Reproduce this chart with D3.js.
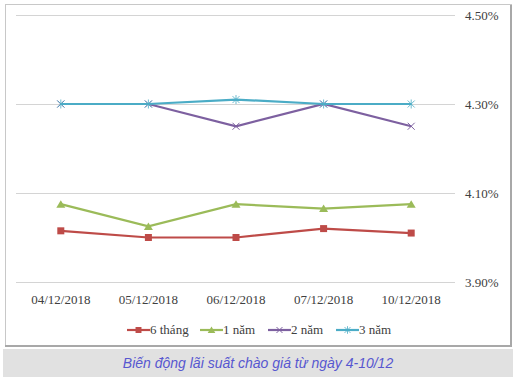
<!DOCTYPE html>
<html><head><meta charset="utf-8">
<script src="https://cdn.jsdelivr.net/npm/d3@7"></script>
<style>
body{margin:0;background:#fff;}
svg{display:block;}
</style></head>
<body>
<svg id="c" width="515" height="377"></svg>
<script>
const categories = ["04/12/2018","05/12/2018","06/12/2018","07/12/2018","10/12/2018"];
const seriesNames = ["6 tháng","1 năm","2 năm","3 năm"];
const s6thang = [4.015, 4.00, 4.00, 4.02, 4.01];
const s1nam = [4.075, 4.025, 4.075, 4.065, 4.075];
const s2nam = [4.30, 4.30, 4.25, 4.30, 4.25];
const s3nam = [4.30, 4.30, 4.31, 4.30, 4.30];
const yTicks = [3.90, 4.10, 4.30, 4.50];
const caption = "Biến động lãi suất chào giá từ ngày 4-10/12";

const colors = ["#be4b48","#9bbb59","#7d60a0","#4bacc6"];
const markers = ["square","triangle","x","star"];
const data = [s6thang, s1nam, s2nam, s3nam];
const serif = "Liberation Serif, Times New Roman, serif";

const svg = d3.select("#c");
// caption band
svg.append("rect").attr("x",3).attr("y",349).attr("width",510).attr("height",28).attr("fill","#e1e1e1");
svg.append("text").attr("x",258).attr("y",368).attr("text-anchor","middle")
  .attr("font-family","Liberation Sans, Arial, sans-serif").attr("font-size",14)
  .attr("font-style","italic").attr("fill","#5757d0").text(caption);
// chart border
svg.append("rect").attr("x",5.5).attr("y",4.5).attr("width",506).attr("height",342)
  .attr("fill","#fff").attr("stroke","#c8c8c8").attr("stroke-width",1);
svg.append("line").attr("x1",511).attr("x2",511).attr("y1",5).attr("y2",347).attr("stroke","#a8a8a8").attr("stroke-width",2);
svg.append("line").attr("x1",5).attr("x2",512).attr("y1",346).attr("y2",346).attr("stroke","#a8a8a8").attr("stroke-width",2);

const x = d3.scaleBand().domain(categories).range([17,455]);
const y = d3.scaleLinear().domain([3.90,4.50]).range([282,15]);

// grid
svg.append("g").selectAll("line").data(yTicks).join("line")
  .attr("x1",16).attr("x2",455).attr("y1",d=>Math.round(y(d))+0.5).attr("y2",d=>Math.round(y(d))+0.5)
  .attr("stroke","#d4d4d4").attr("stroke-width",1);

const yAxis = d3.axisRight(y).tickValues(yTicks).tickSize(0).tickPadding(0)
  .tickFormat(d=>d3.format(".2f")(d)+"%");
const ya = svg.append("g").attr("transform","translate(465,0)").call(yAxis);
ya.select(".domain").remove();
ya.selectAll("text").attr("font-family",serif).attr("font-size",13).attr("fill","#404040").attr("dy","0.35em");

const xAxis = d3.axisBottom(x).tickSize(0).tickPadding(0);
const xa = svg.append("g").attr("transform","translate(0,295)").call(xAxis);
xa.select(".domain").remove();
xa.selectAll("text").attr("font-family",serif).attr("font-size",13).attr("fill","#404040");

function drawMarker(g, type, cx, cy, color, sc){
  const s = sc || 1;
  if(type==="square"){
    g.append("rect").attr("x",cx-3.5*s).attr("y",cy-3.5*s).attr("width",7*s).attr("height",7*s).attr("fill",color);
  } else if(type==="triangle"){
    g.append("path").attr("d",`M${cx},${cy-4*s}L${cx+4.5*s},${cy+3.5*s}L${cx-4.5*s},${cy+3.5*s}Z`).attr("fill",color);
  } else if(type==="x"){
    g.append("path").attr("d",`M${cx-3.5*s},${cy-3.5*s}L${cx+3.5*s},${cy+3.5*s}M${cx-3.5*s},${cy+3.5*s}L${cx+3.5*s},${cy-3.5*s}`).attr("stroke",color).attr("stroke-width",1);
  } else {
    g.append("path").attr("d",`M${cx-3.5*s},${cy-3.5*s}L${cx+3.5*s},${cy+3.5*s}M${cx-3.5*s},${cy+3.5*s}L${cx+3.5*s},${cy-3.5*s}M${cx},${cy-4.5*s}L${cx},${cy+4.5*s}`).attr("stroke",color).attr("stroke-width",1).attr("stroke-opacity",0.8);
  }
}

const line = d3.line().x((d,i)=>x(categories[i])+x.bandwidth()/2).y(d=>y(d));
[0,1,2,3].forEach(k=>{
  const g = svg.append("g");
  g.append("path").datum(data[k]).attr("d",line).attr("fill","none").attr("stroke",colors[k]).attr("stroke-width",2.2);
  data[k].forEach((v,i)=>drawMarker(g, markers[k], x(categories[i])+x.bandwidth()/2, y(v), colors[k]));
});

// legend
const legX = [127,200,268,336];
const leg = svg.append("g");
seriesNames.forEach((n,k)=>{
  const lx = legX[k], ly = 330;
  leg.append("line").attr("x1",lx).attr("x2",lx+23).attr("y1",ly).attr("y2",ly).attr("stroke",colors[k]).attr("stroke-width",2.2);
  drawMarker(leg, markers[k], lx+11.5, ly, colors[k], 0.85);
  leg.append("text").attr("x",lx+23).attr("y",ly+4).attr("font-family",serif)
    .attr("font-size",13).attr("fill","#404040").text(n);
});
</script>
</body></html>
